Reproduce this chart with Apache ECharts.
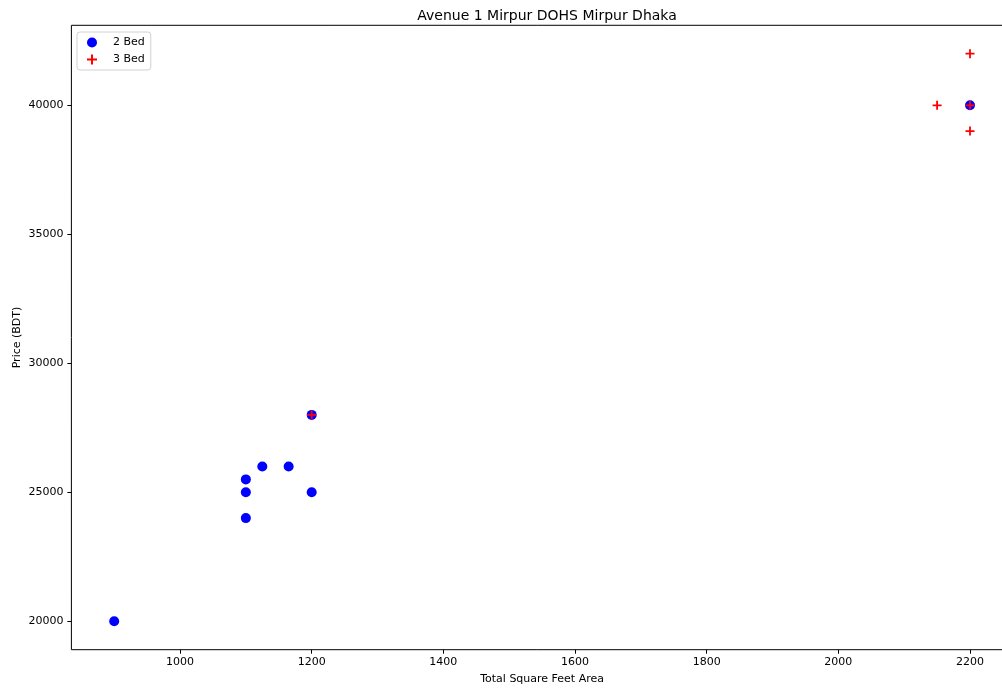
<!DOCTYPE html>
<html>
<head>
<meta charset="utf-8">
<title>Avenue 1 Mirpur DOHS Mirpur Dhaka</title>
<script src="https://cdn.jsdelivr.net/npm/echarts@6/dist/echarts.min.js"></script>
<style>
  html, body { margin: 0; padding: 0; background: #fff; }
  #chart { width: 1002px; height: 689px; }
</style>
</head>
<body>
<div id="chart"></div>
<script>
// Listings: [total square feet, price in BDT]
const bed2 = [
  [900, 20000], [1100, 24000], [1100, 25000], [1100, 25500],
  [1125, 26000], [1165, 26000], [1200, 25000], [1200, 28000],
  [2200, 40000]
];
const bed3 = [
  [1200, 28000], [2150, 40000], [2200, 39000], [2200, 40000], [2200, 42000]
];
const xTicks = [1000, 1200, 1400, 1600, 1800, 2000, 2200];
const yTicks = [20000, 25000, 30000, 35000, 40000];

const FONT = 'DejaVu Sans';
// plus-shaped marker
const PLUS = 'path://M4,0H6V4H10V6H6V10H4V6H0V4H4Z';

const chart = echarts.init(document.getElementById('chart'), null, { renderer: 'canvas' });

chart.setOption({
  animation: false,
  backgroundColor: '#ffffff',
  textStyle: { fontFamily: FONT },
  title: {
    text: 'Avenue 1 Mirpur DOHS Mirpur Dhaka',
    left: 542,
    top: 4,
    textAlign: 'center',
    textStyle: { fontFamily: FONT, fontSize: 14, fontWeight: 'normal', color: '#000' }
  },
  legend: {
    orient: 'vertical',
    left: 77,
    top: 32,
    padding: [3, 6, 3, 10],
    itemWidth: 10,
    itemHeight: 10,
    itemGap: 2,
    borderColor: 'rgba(204,204,204,0.9)',
    borderWidth: 1,
    borderRadius: 3,
    backgroundColor: '#fff',
    textStyle: { fontFamily: FONT, fontSize: 11, color: '#000', padding: [1, 0, 1, 11], lineHeight: 13 },
    data: [
      { name: '2 Bed', icon: 'circle' },
      { name: '3 Bed', icon: PLUS }
    ]
  },
  grid: {
    left: 71.4,
    right: -10.8,
    top: 25.3,
    bottom: 39.3,
    show: true,
    borderColor: '#000',
    borderWidth: 1,
    containLabel: false,
    outerBoundsMode: 'none'
  },
  xAxis: {
    type: 'value',
    min: 835,
    max: 2265,
    name: 'Total Square Feet Area',
    nameLocation: 'middle',
    nameGap: 24,
    nameMoveOverlap: false,
    nameTextStyle: { fontFamily: FONT, fontSize: 11, color: '#000' },
    axisLine: { show: false },
    splitLine: { show: false },
    axisTick: { show: true, length: 4, customValues: xTicks, lineStyle: { color: '#000', width: 1 } },
    axisLabel: { customValues: xTicks, margin: 7, fontFamily: FONT, fontSize: 11, color: '#000', formatter: v => String(v) }
  },
  yAxis: {
    type: 'value',
    min: 18900,
    max: 43100,
    name: 'Price (BDT)',
    nameLocation: 'middle',
    nameGap: 49,
    nameMoveOverlap: false,
    nameTextStyle: { fontFamily: FONT, fontSize: 11, color: '#000' },
    axisLine: { show: false },
    splitLine: { show: false },
    axisTick: { show: true, length: 4, customValues: yTicks, lineStyle: { color: '#000', width: 1 } },
    axisLabel: { customValues: yTicks, margin: 8, fontFamily: FONT, fontSize: 11, color: '#000', formatter: v => String(v) }
  },
  series: [
    {
      name: '2 Bed',
      type: 'scatter',
      data: bed2,
      symbol: 'circle',
      symbolSize: 10,
      itemStyle: { color: '#0000ff', opacity: 1 },
      z: 2
    },
    {
      name: '3 Bed',
      type: 'scatter',
      data: bed3,
      symbol: PLUS,
      symbolSize: 9,
      itemStyle: { color: '#ff0000', opacity: 1 },
      z: 3
    }
  ]
});
</script>
</body>
</html>
